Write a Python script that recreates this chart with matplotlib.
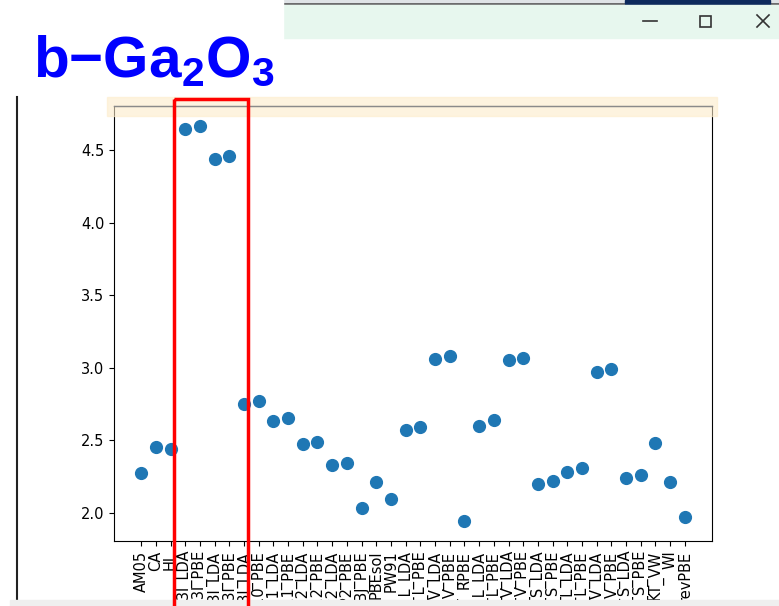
import numpy as np
import matplotlib.pyplot as plt
from matplotlib.patches import Rectangle
from matplotlib.lines import Line2D

plt.rcParams['mathtext.fontset'] = 'custom'
plt.rcParams['mathtext.rm'] = 'Liberation Sans:bold'

# 汎関数名 (下側は画面外で切れている)
labels = ['AM05', 'CA', 'HL', 'TB3l_LDA', 'TB3l_PBE', 'KT3l_LDA', 'KT3l_PBE',
          'HLE13l_LDA', 'HLE10_PBE', 'HSE11_LDA', 'HSE11_PBE', 'HSE12_LDA',
          'HSE12_PBE', 'B3LYP2_LDA', 'B3LYP2_PBE', 'mBJ_PBE', 'PBEsol', 'PW91',
          'GLLB_L_LDA', 'GLLB_L_PBE', 'mBJ_V_LDA', 'mBJ_V_PBE', 'RPBE',
          'LB94_L_LDA', 'LB94_L_PBE', 'TB09_V_LDA', 'TB09_V_PBE', 'SCAN_S_LDA',
          'SCAN_S_PBE', 'BJ06_L_LDA', 'BJ06_L_PBE', 'RPP_V_LDA', 'RPP_V_PBE',
          'TPSS_S_LDA', 'TPSS_S_PBE', 'KT_VW', 'WI', 'revPBE']
gap = [2.27, 2.45, 2.44, 4.65, 4.67, 4.44, 4.46,
       2.75, 2.77, 2.63, 2.65, 2.47,
       2.49, 2.33, 2.34, 2.03, 2.21, 2.09,
       2.57, 2.59, 3.06, 3.08, 1.94,
       2.60, 2.64, 3.05, 3.07, 2.20,
       2.22, 2.28, 2.31, 2.97, 2.99,
       2.24, 2.26, 2.48, 2.21, 1.97]

W, H = 779, 606
fig = plt.figure(figsize=(W / 100, H / 100), dpi=100)

def fx(x):
    return x / W

def fy(y):
    return 1 - y / H

# メインの散布図
ax = fig.add_axes([fx(114), fy(541), fx(712) - fx(114), fy(106) - fy(541)])
x = np.arange(len(labels))
ax.scatter(x, gap, s=72, color='#1f77b4', zorder=3)
ax.set_xticks(x)
ax.set_xticklabels(labels, rotation=90, fontsize=10.5)
ax.tick_params(axis='y', labelsize=10.5)
ax.set_yticks([2.0, 2.5, 3.0, 3.5, 4.0, 4.5])

# 画面の装飾 (スクリーンショット)
ov = fig.add_axes([0, 0, 1, 1])
ov.set_xlim(0, W)
ov.set_ylim(H, 0)
ov.axis('off')
ov.patch.set_alpha(0)

# 上のウィンドウ
ov.add_patch(Rectangle((283, 0), W - 283, 5, color='#dfe3e6', zorder=1))
ov.add_line(Line2D([283, W], [4, 4], color='#555555', lw=1.2, zorder=2))
ov.add_patch(Rectangle((625, 0), 145, 4, color='#0d2a5c', zorder=2))
ov.add_patch(Rectangle((283, 5), W - 283, 33, color='#e7f7ee', zorder=2))
ov.add_line(Line2D([643, 657], [21, 21], color='#333333', lw=1.2, zorder=3))
ov.add_patch(Rectangle((700, 16), 11, 11, fill=False, ec='#333333', lw=1.2, zorder=3))
ov.add_line(Line2D([757, 769], [15, 27], color='#333333', lw=1.2, zorder=3))
ov.add_line(Line2D([757, 769], [27, 15], color='#333333', lw=1.2, zorder=3))

# タイトル
ov.add_patch(Rectangle((0, 0), 283, 97, color='white', zorder=4))
ov.text(33, 77, r'b−Ga$\mathregular{_2}$O$\mathregular{_3}$', color='#0000ff',
        fontsize=42, fontweight='bold', family='Liberation Sans',
        ha='left', va='baseline', zorder=5)

# 左の線、下のバー
ov.add_line(Line2D([17, 17], [97, 606], color='#222222', lw=1.5, zorder=4))
ov.add_patch(Rectangle((10, 600), W - 10, 6, color='#efefef', zorder=4))

# 黄色の帯と赤い枠
ov.add_patch(Rectangle((107, 97), 610, 19, color='#fdeccb', alpha=0.6, zorder=6))
ov.add_line(Line2D([114, 712], [106, 106], color='#8a8a8a', lw=1.0, zorder=6))
ov.add_patch(Rectangle((174, 99), 74, 520, fill=False, ec='#ff0000', lw=2.5, zorder=7))

fig.savefig('out.png', dpi=100)
